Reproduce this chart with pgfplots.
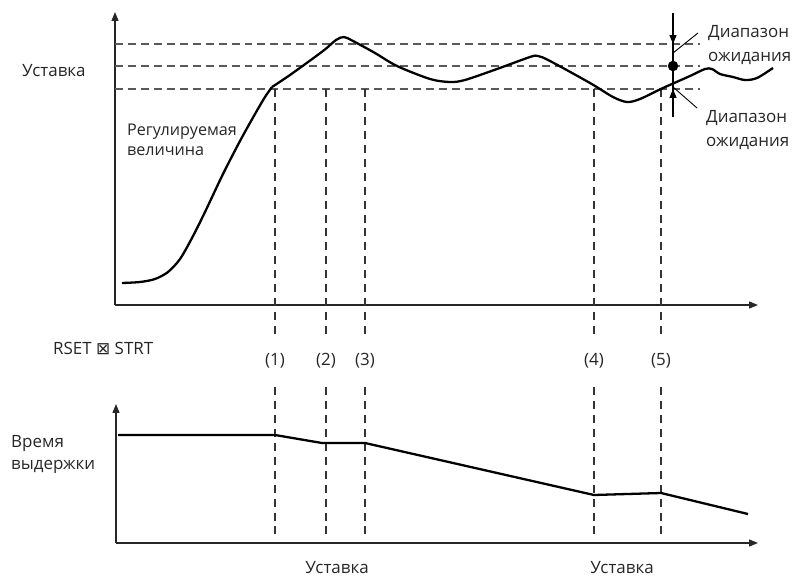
\documentclass[border=0pt]{standalone}
\usepackage{pgfplots}
\pgfplotsset{compat=1.18}
\usepackage{fontspec}
\setmainfont{Open Sans}
\newfontfamily\symfont{DejaVu Sans}
\usetikzlibrary{arrows.meta}
\tikzset{lbl/.style={font=\fontsize{17}{20}\selectfont, inner sep=0pt, text=black!85},
         slbl/.style={font=\fontsize{16.2}{19}\selectfont, inner sep=0pt, text=black!85}}
\begin{document}
\begin{tikzpicture}
\begin{axis}[
  width=803bp, height=577bp, scale only axis,
  xmin=0, xmax=803, ymin=0, ymax=577, y dir=reverse,
  hide axis, clip=false,
]
\path (rel axis cs:0,0) rectangle (rel axis cs:1,1);
% axes
\addplot[black!85, line width=1.3pt, -{Triangle[length=9pt,width=7pt]}] coordinates {(115,305) (115,12)};
\addplot[black!85, line width=1.3pt, -{Triangle[length=9pt,width=7pt]}] coordinates {(115,305) (758,305)};
\addplot[black!85, line width=1.3pt, -{Triangle[length=9pt,width=7pt]}] coordinates {(116,543) (116,404)};
\addplot[black!85, line width=1.3pt, -{Triangle[length=9pt,width=7pt]}] coordinates {(116,543) (758,543)};
% horizontal dashed lines
\addplot[black!65, line width=1.1pt, dash pattern=on 8pt off 5pt] coordinates {(115,44) (700,44)};
\addplot[black!65, line width=1.1pt, dash pattern=on 8pt off 5pt] coordinates {(115,66) (700,66)};
\addplot[black!65, line width=1.1pt, dash pattern=on 8pt off 5pt] coordinates {(115,89) (700,89)};
% vertical dashed lines
\foreach \xx in {275,326,365,594,661} {
  \edef\temp{\noexpand\addplot[black!80, line width=1.1pt, dash pattern=on 8pt off 6pt] coordinates {(\xx,89) (\xx,334)};
  \noexpand\addplot[black!80, line width=1.1pt, dash pattern=on 8pt off 6pt] coordinates {(\xx,387) (\xx,538)};}
  \temp
}
% controlled variable
\addplot[black, line width=2.3pt, smooth, tension=0.5] coordinates {
 (122,283) (140,282) (155,279) (168,272) (180,259) (192,238) (205,212) (223,174) (240,141) (255,114) (265,97) (272,87)};
\addplot[black, line width=2.3pt, smooth, tension=0.5] coordinates {
 (272,87) (290,75) (323,51) (336,40) (344,37) (353,41) (375,53) (397,66) (430,79) (450,82) (465,80) (497,69) (530,57) (538,56) (550,61) (590,83) (613,97) (627,102) (640,99) (663,88) (690,76) (705,69) (712,69) (720,74) (733,77) (745,80) (757,78) (773,68)};
% delay time
\addplot[black, line width=2.3pt] coordinates {(118,435) (275,435) (322,443) (365,443) (594,495) (661,493) (748,514)};
% wait band marker
\addplot[black, line width=1.2pt] coordinates {(673,13) (673,117)};
\addplot[black, line width=1.2pt, -{Triangle[length=9pt,width=7pt]}] coordinates {(673,13) (673,44)};
\addplot[black, line width=1.2pt, -{Triangle[length=9pt,width=7pt]}] coordinates {(673,117) (673,89)};
\addplot[black, mark=*, mark size=5pt, only marks] coordinates {(673,66)};
\addplot[black, line width=0.9pt] coordinates {(698,33) (673,53)};
\addplot[black, line width=0.9pt] coordinates {(673,87) (697,108)};
% labels
\node[lbl, anchor=west] at (axis cs:22,71) {Уставка};
\node[slbl, anchor=west] at (axis cs:127,132) {Регулируемая};
\node[slbl, anchor=west] at (axis cs:127,151) {величина};
\node[lbl, anchor=west] at (axis cs:53,348) {RSET {\symfont ⊠} STRT};
\node[lbl] at (axis cs:275,361) {(1)};
\node[lbl] at (axis cs:326,361) {(2)};
\node[lbl] at (axis cs:365,361) {(3)};
\node[lbl] at (axis cs:594,361) {(4)};
\node[lbl] at (axis cs:661,361) {(5)};
\node[lbl, anchor=west] at (axis cs:11,443) {Время};
\node[lbl, anchor=west] at (axis cs:11,467) {выдержки};
\node[lbl] at (axis cs:337,568) {Уставка};
\node[lbl] at (axis cs:622,568) {Уставка};
\node[lbl, anchor=west] at (axis cs:708,33) {Диапазон};
\node[lbl, anchor=west] at (axis cs:708,58) {ожидания};
\node[lbl, anchor=west] at (axis cs:706,118) {Диапазон};
\node[lbl, anchor=west] at (axis cs:706,143) {ожидания};
\end{axis}
\end{tikzpicture}
\end{document}
